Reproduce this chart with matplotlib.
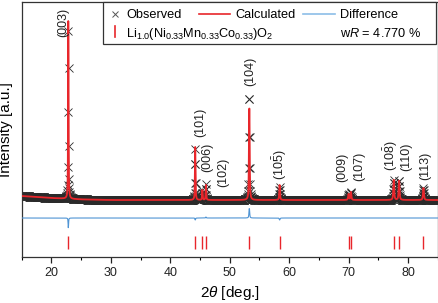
import numpy as np
import matplotlib.pyplot as plt
from matplotlib.patches import Rectangle
from matplotlib.lines import Line2D

plt.rcParams['font.family'] = ['Liberation Sans', 'DejaVu Sans']
plt.rcParams['mathtext.fontset'] = 'custom'
plt.rcParams['mathtext.rm'] = 'Liberation Sans'
plt.rcParams['mathtext.it'] = 'Liberation Sans:italic'
plt.rcParams['mathtext.bf'] = 'Liberation Sans:bold'

# reflections (2theta in deg, intensities in counts)
peak_pos = [22.85, 44.2, 45.4, 46.0, 53.3, 58.4, 70.0, 70.4, 77.6, 78.5, 82.6]
calc_height = [9200, 2650, 500, 750, 4900, 750, 300, 400, 1000, 1000, 600]
obs_height = [8700, 2550, 500, 800, 5400, 650, 300, 400, 1000, 1000, 600]
peak_fwhm = [0.10, 0.12, 0.12, 0.12, 0.14, 0.15, 0.17, 0.17, 0.18, 0.18, 0.19]
hkl = ['(003)', '(101)', '(006)', '(102)', '(104)', r'$\mathregular{(10\bar{5})}$',
       '(009)', '(107)', r'$\mathregular{(10\bar{8})}$', '(110)', '(113)']
label_x = [22.07, 45.09, 46.27, 48.87, 53.50, 58.37, 68.96, 71.73, 77.11, 79.71, 82.91]
label_y = [9900, 4875, 3125, 2400, 7425, 2775, 2650, 2700, 3200, 3150, 2700]

# background knots
bg_x = [15, 20, 25, 30, 85]
bg_y = [1200, 1100, 1030, 1000, 1000]
diff_offset = 100
tick_lo, tick_hi = -1450, -800


def pvoigt(x, x0, h, w, eta=0.6):
    g = np.exp(-4 * np.log(2) * ((x - x0) / w) ** 2)
    l = 1 / (1 + 4 * ((x - x0) / w) ** 2)
    return h * (eta * l + (1 - eta) * g)


tt = np.arange(15, 85.001, 0.04)
bg = np.interp(tt, bg_x, bg_y)
calc = bg.copy()
obs = bg.copy()
for p, hc, ho, w in zip(peak_pos, calc_height, obs_height, peak_fwhm):
    calc += pvoigt(tt, p, hc, w)
    obs += pvoigt(tt, p, ho, w)
diff = obs - calc + diff_offset

fig = plt.figure(figsize=(4.39, 3.03), dpi=100)
ax = fig.add_axes([0.0494, 0.1518, 0.9477, 0.8416])

ax.plot(tt, obs, ls='none', marker='x', ms=5.5, mew=0.6, color='#2a2a2a', zorder=2)
ax.plot(tt, calc, color='#e8262b', lw=1.3, zorder=3)
ax.plot(tt, diff, color='#4f94d4', lw=0.8, zorder=3)
ax.vlines(peak_pos, tick_lo, tick_hi, color='#e8262b', lw=1.0, zorder=3)

for t, lx, ly in zip(hkl, label_x, label_y):
    ax.text(lx, ly, t, rotation=90, ha='center', va='center', fontsize=9, color='#222222')

ax.set_xlim(15, 85)
ax.set_ylim(-1850, 10900)
ax.set_xticks(range(20, 81, 10))
ax.set_xticks(range(15, 86, 5), minor=True)
ax.set_yticks([])
ax.tick_params(axis='x', which='major', direction='out', length=4, width=0.9,
               labelsize=9, pad=3, colors='#222222')
ax.tick_params(axis='x', which='minor', direction='out', length=2, width=0.8)
for s in ax.spines.values():
    s.set_color('#333333')
    s.set_linewidth(0.9)

ax.set_xlabel(r'2$\it{\theta}$ [deg.]', fontsize=11)
ax.set_ylabel('Intensity [a.u.]', fontsize=11)
ax.xaxis.set_label_coords(0.5, -0.105)
ax.yaxis.set_label_coords(-0.022, 0.5)

# legend drawn by hand so the second row can span columns
tr = ax.transAxes
ax.add_patch(Rectangle((0.1962, 0.8353), 0.7995, 0.1647, transform=tr, facecolor='white',
                       edgecolor='#333333', lw=0.9, zorder=5, clip_on=False))
row1, row2 = 0.9353, 0.8647
ax.add_line(Line2D([0.2244], [0.9529], transform=tr, ls='none', marker='x', ms=5,
                   mew=0.7, color='#555555', zorder=6))
ax.text(0.2508, row1, 'Observed', transform=tr, fontsize=9.2, va='baseline', zorder=6)
ax.add_line(Line2D([0.4265, 0.5010], [0.9529, 0.9529], transform=tr, color='#e8262b',
                   lw=1.2, zorder=6))
ax.text(0.5130, row1, 'Calculated', transform=tr, fontsize=9.2, va='baseline', zorder=6)
ax.add_line(Line2D([0.6765, 0.7535], [0.9529, 0.9529], transform=tr, color='#8cbde8',
                   lw=1.2, zorder=6))
ax.text(0.7655, row1, 'Difference', transform=tr, fontsize=9.2, va='baseline', zorder=6)
ax.add_line(Line2D([0.2244, 0.2244], [0.8627, 0.9059], transform=tr, color='#e8262b',
                   lw=1.2, zorder=6))
ax.text(0.2508, row2, r'Li$_{1.0}$(Ni$_{0.33}$Mn$_{0.33}$Co$_{0.33}$)O$_2$', transform=tr,
        fontsize=9.2, va='baseline', zorder=6)
ax.text(0.7655, row2, r'w$\it{R}$ = 4.770 %', transform=tr, fontsize=9.2, va='baseline', zorder=6)

fig.savefig('out.png', dpi=100)
plt.close(fig)
